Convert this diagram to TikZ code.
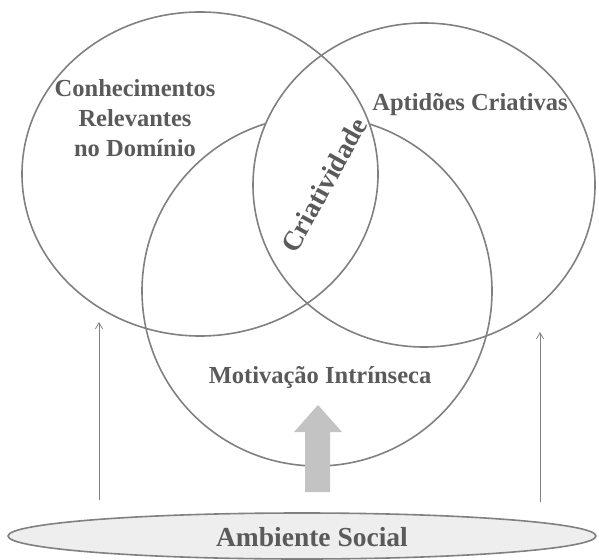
\documentclass[tikz,border=0pt]{standalone}
\usepackage{fontspec}
\setmainfont{Liberation Serif}
\usetikzlibrary{arrows.meta,shapes.geometric}
\definecolor{linegray}{RGB}{128,128,128}
\definecolor{textgray}{RGB}{90,90,90}
\definecolor{arrowgray}{RGB}{195,195,195}
\definecolor{socialgray}{RGB}{238,238,238}

\begin{document}
\begin{tikzpicture}[x=1pt,y=-1pt,>={Straight Barb[length=6pt,width=7pt]},
    ring/.style={draw=linegray,line width=1.6pt},
    txt/.style={text=textgray,font=\fontsize{24.5}{30}\selectfont\bfseries,align=center}]
  \useasboundingbox (0,0) rectangle (599,559);

  % the three circles
  \draw[ring] (317,291) ellipse [x radius=175pt,y radius=175pt];
  \begin{scope}
    \clip (200,174) ellipse [x radius=178pt,y radius=162pt];
    \fill[white] (424,185) ellipse [x radius=171pt,y radius=162pt];
  \end{scope}
  \draw[ring] (200,174) ellipse [x radius=178pt,y radius=162pt];
  \draw[ring] (424,185) ellipse [x radius=171pt,y radius=162pt];

  \node[txt] (conh) at (135,118) {Conhecimentos\\Relevantes\\no Domínio};
  \node[txt] (apt) at (470,105) {Aptidões Criativas};
  \node[txt,font=\fontsize{27.5}{30}\selectfont\bfseries,rotate=61] (criat) at (324,185) {Criatividade};
  \node[txt] (motiv) at (320,377) {Motivação Intrínseca};

  % social environment
  \node[ellipse,ring,fill=socialgray,minimum width=588pt,minimum height=46pt,
    inner sep=0pt] (amb) at (302,536) {};
  \node[txt,font=\fontsize{27.5}{30}\selectfont\bfseries] (ambtxt) at (312,537) {Ambiente Social};

  \coordinate (conhin) at (99,322);
  \coordinate (aptin) at (540,332);
  \draw[->,linegray,line width=0.8pt] (amb.north -| conhin) ++(0,-12) -- (conhin);
  \draw[->,linegray,line width=0.8pt] (amb.north -| aptin) ++(0,-10) -- (aptin);

  % big arrow into the motivation circle
  \fill[arrowgray] (305,492) -- (305,432) -- (294,432) -- (318,405) -- (342,432)
    -- (330,432) -- (330,492) -- cycle;
\end{tikzpicture}
\end{document}
